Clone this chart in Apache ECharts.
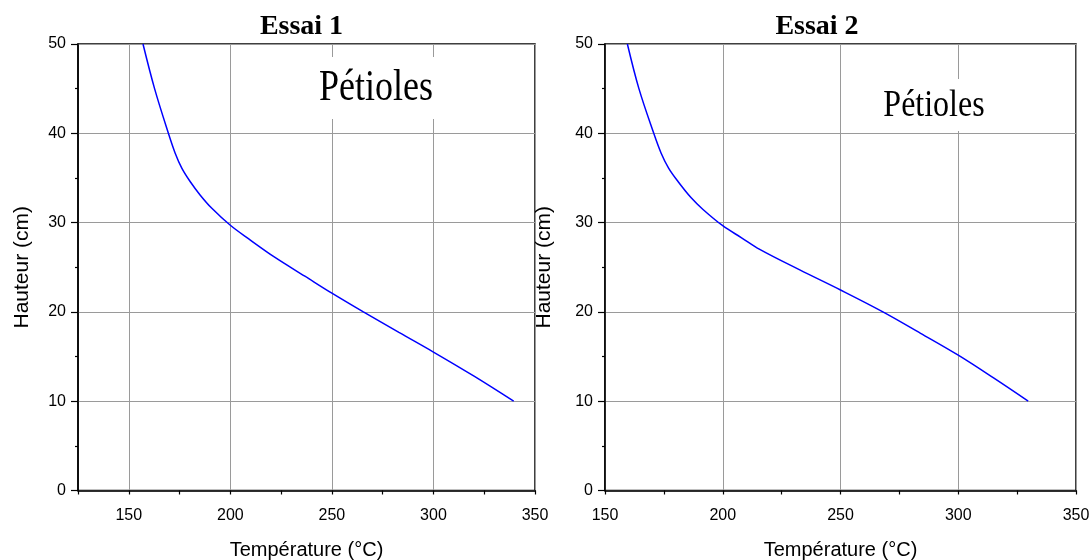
<!DOCTYPE html>
<html>
<head>
<meta charset="utf-8">
<script src="https://cdn.jsdelivr.net/npm/echarts@6/dist/echarts.min.js"></script>
<style>
  html, body { margin: 0; padding: 0; background: #fff; }
  #main { width: 1091px; height: 560px; }
</style>
</head>
<body>
<div id="main"></div>
<script>
// Essai 1 - température (°C) / hauteur (cm)
var temp1 = [157, 162.7, 169.5, 172.8, 176.1, 180.2, 185.1, 190.9, 200, 208.9, 222, 236.7, 250, 265.5, 283, 300, 320, 339.5];
var haut1 = [50, 45, 40, 37.8, 36.1, 34.6, 33.1, 31.6, 29.7, 28.2, 26.1, 24.0, 22.1, 20, 17.7, 15.5, 12.8, 10];
// Essai 2
var temp2 = [159.5, 164.4, 170.7, 173.8, 177, 181, 186.5, 191.5, 200, 208, 215.7, 232.7, 250, 268, 284, 300, 315, 329.7];
var haut2 = [50, 45, 40, 37.8, 36.1, 34.6, 32.8, 31.5, 29.65, 28.3, 27, 24.7, 22.45, 20, 17.6, 15.15, 12.6, 10];

var titres = ['Essai 1', 'Essai 2'];
var etiquette = 'Pétioles';
var nomX = 'Température (°C)';
var nomY = 'Hauteur (cm)';

function paires(xs, ys) {
    var out = [];
    for (var i = 0; i < xs.length; i++) out.push([xs[i], ys[i]]);
    return out;
}

var chart = echarts.init(document.getElementById('main'));

var police = 'Liberation Sans, Arial, sans-serif';
var serif = 'Liberation Serif, Times New Roman, serif';
var gris = '#9a9a9a';
var rien = 'rgba(0,0,0,0)';

var axeLigne = { show: true, onZero: false, lineStyle: { color: '#000', width: 1.5 } };
var labelStyle = { color: '#000', fontSize: 16, fontFamily: police };

function axeY(gap) {
    return {
        type: 'value', min: 0, max: 50, interval: 10,
        name: nomY, nameLocation: 'middle', nameRotate: 90, nameGap: gap,
        nameTextStyle: { color: '#000', fontSize: 21, fontFamily: police },
        axisLine: axeLigne,
        axisTick: { show: true, inside: false, length: 7, lineStyle: { color: '#000', width: 1.2 } },
        minorTick: { show: true, splitNumber: 2, length: 3, lineStyle: { color: '#000', width: 1.2 } },
        axisLabel: Object.assign({ margin: 12 }, labelStyle),
        splitLine: { show: true, lineStyle: { color: gris, width: 1 } }
    };
}

var option = {
    animation: false,
    backgroundColor: '#fff',
    grid: [
        { left: 78, top: 44, width: 457, height: 446.5, outerBoundsMode: 'none', containLabel: false,
          show: true, borderColor: '#000', borderWidth: 1.5, backgroundColor: rien },
        { left: 605, top: 44, width: 471, height: 446.5, outerBoundsMode: 'none', containLabel: false,
          show: true, borderColor: '#000', borderWidth: 1.5, backgroundColor: rien }
    ],
    xAxis: [
        {
            gridIndex: 0, type: 'value', min: 125, max: 350, interval: 25,
            name: nomX, nameLocation: 'middle', nameGap: 50,
            nameTextStyle: { color: '#000', fontSize: 20, fontFamily: police },
            axisLine: axeLigne,
            axisTick: { show: true, inside: false, length: 4, lineStyle: { color: '#000', width: 1.2 } },
            axisLabel: Object.assign({
                margin: 17,
                formatter: function (v) { return v % 50 === 0 ? String(v) : ''; }
            }, labelStyle),
            // une ligne sur deux : seulement 150, 200, 250, 300
            splitLine: { show: true, lineStyle: { color: [rien, gris], width: 1 } }
        },
        {
            gridIndex: 1, type: 'value', min: 150, max: 350, interval: 50,
            name: nomX, nameLocation: 'middle', nameGap: 50,
            nameTextStyle: { color: '#000', fontSize: 20, fontFamily: police },
            axisLine: axeLigne,
            axisTick: { show: true, inside: false, length: 4, lineStyle: { color: '#000', width: 1.2 } },
            minorTick: { show: true, splitNumber: 2, length: 4, lineStyle: { color: '#000', width: 1.2 } },
            axisLabel: Object.assign({ margin: 17 }, labelStyle),
            splitLine: { show: true, lineStyle: { color: gris, width: 1 } }
        }
    ],
    yAxis: [
        Object.assign({ gridIndex: 0 }, axeY(45)),
        Object.assign({ gridIndex: 1 }, axeY(50))
    ],
    series: [
        {
            type: 'line', xAxisIndex: 0, yAxisIndex: 0,
            data: paires(temp1, haut1),
            smooth: 0.35, showSymbol: false, symbol: 'none',
            lineStyle: { color: '#0000ff', width: 1.5 }
        },
        {
            type: 'line', xAxisIndex: 1, yAxisIndex: 1,
            data: paires(temp2, haut2),
            smooth: 0.35, showSymbol: false, symbol: 'none',
            lineStyle: { color: '#0000ff', width: 1.5 }
        }
    ],
    graphic: [
        {
            type: 'text', x: 301.5, y: 27, z: 10,
            style: { text: titres[0], fill: '#000', font: 'bold 28px ' + serif, textAlign: 'center', textVerticalAlign: 'middle' }
        },
        {
            type: 'text', x: 817, y: 27, z: 10,
            style: { text: titres[1], fill: '#000', font: 'bold 28px ' + serif, textAlign: 'center', textVerticalAlign: 'middle' }
        },
        // encadré blanc derrière l'étiquette
        {
            type: 'rect', z: 10, shape: { x: 312, y: 57, width: 128, height: 62 },
            style: { fill: '#fff' }
        },
        {
            type: 'text', x: 376, y: 88.5, scaleY: 1.22, z: 11,
            style: { text: etiquette, fill: '#000', font: '36px ' + serif, textAlign: 'center', textVerticalAlign: 'middle' }
        },
        {
            type: 'rect', z: 10, shape: { x: 878, y: 79, width: 112, height: 52 },
            style: { fill: '#fff' }
        },
        {
            type: 'text', x: 934, y: 106, scaleY: 1.21, z: 11,
            style: { text: etiquette, fill: '#000', font: '32px ' + serif, textAlign: 'center', textVerticalAlign: 'middle' }
        }
    ]
};

chart.setOption(option);
</script>
</body>
</html>
